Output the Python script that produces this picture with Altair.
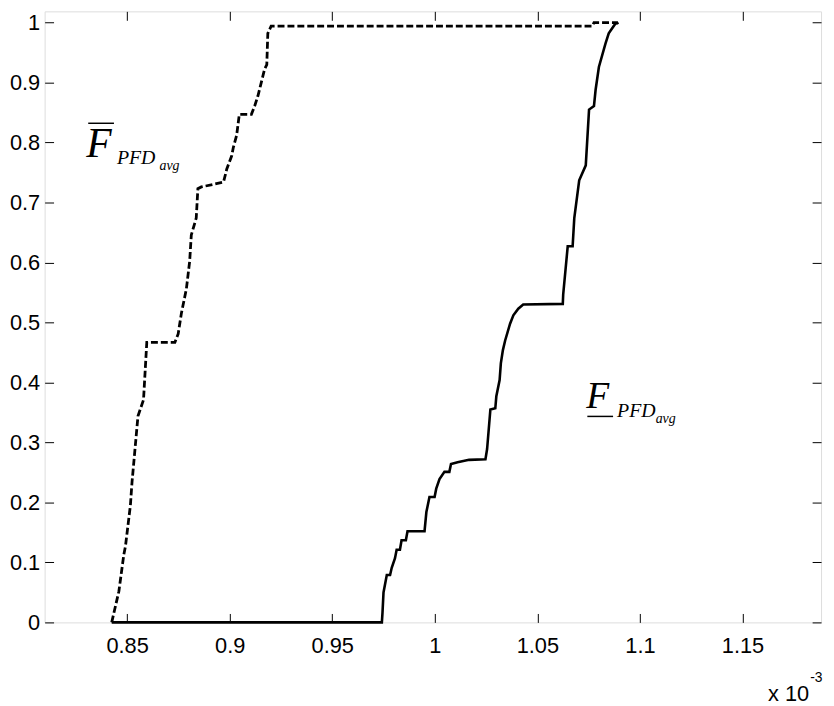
import altair as alt
import pandas as pd

# Upper bound CDF (dashed), x in units of 1e-3
upper_x = [0.8425, 0.846, 0.8484, 0.8492, 0.8516, 0.8524, 0.8553, 0.8564, 0.858, 0.8596,
           0.8733, 0.8749, 0.8765, 0.8789, 0.8805, 0.8813, 0.8837, 0.8845, 0.8862, 0.897,
           0.8986, 0.901, 0.9018, 0.9034, 0.9047, 0.9106, 0.9122, 0.9138, 0.9154, 0.917,
           0.9181, 0.9186, 0.9202, 1.0768, 1.0776, 1.0888, 1.0895]
upper_y = [0.0, 0.052, 0.113, 0.127, 0.195, 0.234, 0.344, 0.355, 0.371, 0.467,
           0.467, 0.481, 0.516, 0.556, 0.602, 0.646, 0.674, 0.723, 0.726, 0.734,
           0.756, 0.778, 0.792, 0.812, 0.847, 0.847, 0.861, 0.878, 0.900, 0.922,
           0.930, 0.982, 0.994, 0.994, 1.0, 1.0, 0.995]

# Lower bound CDF (solid)
lower_x = [0.8425, 0.9742, 0.9745, 0.975, 0.9766, 0.9782, 0.979, 0.9806, 0.9814, 0.983,
           0.9838, 0.9859, 0.9867, 0.995, 0.9959, 0.9974, 0.9999, 1.0007, 1.0023, 1.0047,
           1.0071, 1.0079, 1.0111, 1.0167, 1.0247, 1.0255, 1.0271, 1.0295, 1.03, 1.0316,
           1.0322, 1.0332, 1.0343, 1.0367, 1.0383, 1.0407, 1.0431, 1.0624, 1.0626, 1.0648,
           1.0672, 1.068, 1.0704, 1.0736, 1.0752, 1.0776, 1.0784, 1.08, 1.0832, 1.0848,
           1.0864, 1.088]
lower_y = [0.0, 0.0, 0.016, 0.05, 0.079, 0.079, 0.091, 0.107, 0.121, 0.121,
           0.137, 0.137, 0.152, 0.152, 0.184, 0.209, 0.209, 0.223, 0.239, 0.251,
           0.251, 0.264, 0.267, 0.271, 0.272, 0.289, 0.355, 0.357, 0.377, 0.404,
           0.432, 0.454, 0.47, 0.498, 0.512, 0.523, 0.530, 0.531, 0.547, 0.627,
           0.627, 0.674, 0.737, 0.762, 0.855, 0.861, 0.888, 0.926, 0.965, 0.982,
           0.99, 0.998]

x_ticks = [0.85, 0.9, 0.95, 1.0, 1.05, 1.1, 1.15]
y_ticks = [0, 0.1, 0.2, 0.3, 0.4, 0.5, 0.6, 0.7, 0.8, 0.9, 1.0]
x_domain = [0.8098, 1.1883]
y_domain = [0, 1.0187]

upper = pd.DataFrame({"x": upper_x, "y": upper_y, "i": range(len(upper_x))})
lower = pd.DataFrame({"x": lower_x, "y": lower_y, "i": range(len(lower_x))})

W, H = 784, 617
LABEL_FONT = "Liberation Sans"
LABEL_SIZE = 22
TICK = 9

xs = alt.Scale(domain=x_domain, nice=False, zero=False)
ys = alt.Scale(domain=y_domain, nice=False, zero=False)

solid = alt.Chart(lower).mark_line(color="black", strokeWidth=2.6).encode(
    x=alt.X("x:Q", scale=xs, axis=alt.Axis(
        orient="bottom", values=x_ticks, format="~g", title=None, domain=False,
        grid=False, tickSize=TICK, offset=-TICK, tickColor="black", tickWidth=1,
        labelFont=LABEL_FONT, labelFontSize=LABEL_SIZE, labelColor="black", labelPadding=13,
        labelFlush=False, labelOverlap=False)),
    y=alt.Y("y:Q", scale=ys, axis=alt.Axis(
        orient="left", values=y_ticks, format="~g", title=None, domain=False,
        grid=False, tickSize=TICK, offset=-TICK, tickColor="black", tickWidth=1,
        labelFont=LABEL_FONT, labelFontSize=LABEL_SIZE, labelColor="black", labelPadding=5,
        labelFlush=False, labelOverlap=False)),
    order="i:Q",
)

dashed = alt.Chart(upper).mark_line(color="black", strokeWidth=2.8, strokeDash=[7, 3]).encode(
    x=alt.X("x:Q", scale=xs, axis=alt.Axis(
        orient="top", values=x_ticks, labels=False, title=None, domain=False,
        grid=False, tickSize=TICK, offset=-TICK, tickColor="black", tickWidth=1)),
    y=alt.Y("y:Q", scale=ys, axis=alt.Axis(
        orient="right", values=y_ticks, labels=False, title=None, domain=False,
        grid=False, tickSize=TICK, offset=-TICK, tickColor="black", tickWidth=1)),
    order="i:Q",
)

SERIF = "Liberation Serif"
ann = pd.DataFrame({"d": [0]})

def txt(s, x, y, size, italic=True, font=SERIF, align="left"):
    return alt.Chart(ann).mark_text(
        text=s, font=font, fontSize=size, fontStyle="italic" if italic else "normal",
        align=align, baseline="alphabetic", color="black"
    ).encode(x=alt.value(x), y=alt.value(y))

def rule(x1, x2, y):
    return alt.Chart(ann).mark_rule(color="black", strokeWidth=1.5).encode(
        x=alt.value(x1), x2=alt.value(x2), y=alt.value(y))

annotations = [
    txt("F", 42, 147, 42), rule(44, 70, 113), txt("PFD", 73, 154, 20), txt("avg", 116, 160, 14),
    txt("F", 547, 401, 38), rule(548, 574, 409), txt("PFD", 578, 410, 20), txt("avg", 617, 416, 14),
    txt("x 10", 772, 696, LABEL_SIZE, italic=False, font=LABEL_FONT, align="right"),
    txt("-3", 773, 677, 14, italic=False, font=LABEL_FONT),
]

chart = alt.layer(solid, dashed, *annotations).resolve_scale(
    x="independent", y="independent"
).resolve_axis(x="independent", y="independent").properties(
    width=W, height=H,
    autosize=alt.AutoSizeParams(type="none"),
    padding={"left": 37, "top": 0, "right": 5, "bottom": 80},
).configure_view(stroke="black", strokeWidth=1.2).configure(background="white")

chart.save("out.html", embed_options={"renderer": "svg", "actions": False})
